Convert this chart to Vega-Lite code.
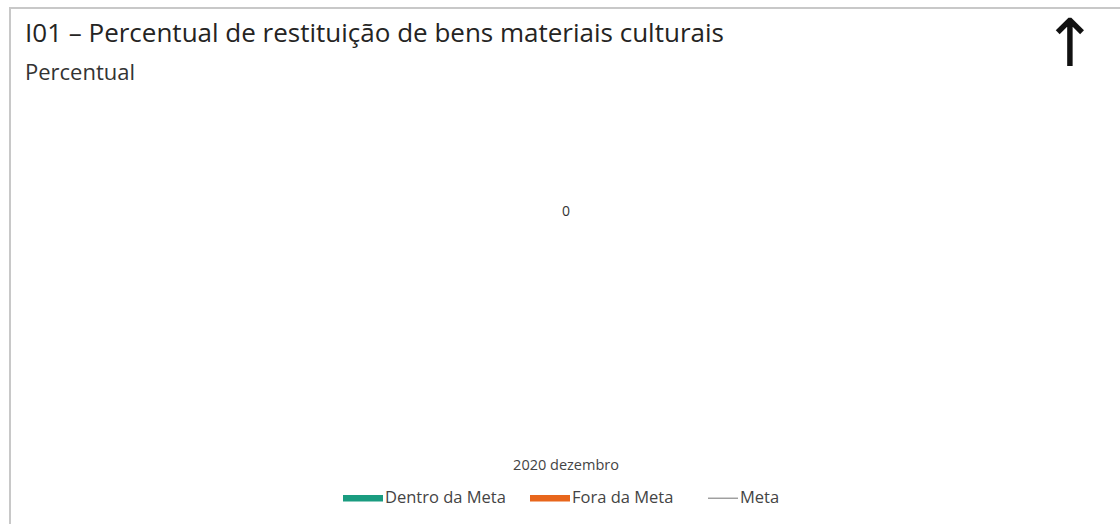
{
  "$schema": "https://vega.github.io/schema/vega-lite/v6.json",
  "autosize": "none",
  "padding": {"left": 10, "top": 8, "right": 0, "bottom": 0},
  "width": 1112,
  "height": 530,
  "background": "white",
  "config": {
    "view": {"stroke": "#c8c8c8", "strokeWidth": 2},
    "font": "Open Sans"
  },
  "title": {
    "text": "I01 – Percentual de restituição de bens materiais culturais",
    "subtitle": "Percentual",
    "anchor": "start",
    "frame": "group",
    "offset": -76,
    "dx": 15,
    "font": "Open Sans",
    "fontSize": 26,
    "fontWeight": "normal",
    "color": "#252423",
    "subtitleFont": "Open Sans",
    "subtitleFontSize": 22,
    "subtitleColor": "#333333",
    "subtitlePadding": 16
  },
  "data": {
    "values": [
      {"periodo": "2020 dezembro", "valor": 0, "status": "Dentro da Meta"}
    ]
  },
  "layer": [
    {
      "mark": {"type": "bar"},
      "encoding": {
        "x": {
          "field": "periodo",
          "type": "nominal",
          "title": null,
          "axis": {
            "orient": "bottom",
            "offset": -80,
            "domain": false,
            "ticks": false,
            "labelAngle": 0,
            "labelPadding": 0,
            "labelBaseline": "top",
            "labelFontSize": 14.5,
            "labelColor": "#444444",
            "labelFont": "Open Sans"
          }
        },
        "y": {
          "field": "valor",
          "type": "quantitative",
          "scale": {"domain": [-3, 2]},
          "axis": null
        },
        "color": {
          "field": "status",
          "type": "nominal",
          "scale": {
            "domain": ["Dentro da Meta", "Fora da Meta", "Meta"],
            "range": ["#1a9c80", "#e8661c", "#9a9a9a"]
          },
          "legend": {
            "title": null,
            "orient": "none",
            "direction": "horizontal",
            "legendX": 333,
            "legendY": 470,
            "labelFontSize": 16.5,
            "labelColor": "#444444",
            "labelFont": "Open Sans",
            "symbolSize": 1600,
            "symbolOpacity": 1,
            "symbolStrokeWidth": 0,
            "labelOffset": 2,
            "columnPadding": 24,
            "encode": {
              "symbols": {
                "update": {
                  "shape": {"signal": "datum.value === 'Meta' ? 'M-0.5,-0.035H1V0.035H-0.5Z' : 'M-1,-0.16H1V0.16H-1Z'"}
                }
              }
            }
          }
        }
      }
    },
    {
      "mark": {"type": "text", "dy": -8, "fontSize": 14, "color": "#333333", "font": "Open Sans"},
      "encoding": {
        "x": {"field": "periodo", "type": "nominal"},
        "y": {"field": "valor", "type": "quantitative"},
        "text": {"field": "valor", "type": "quantitative"}
      }
    },
    {
      "mark": {"type": "text", "text": "↑", "fontSize": 66, "font": "DejaVu Sans", "color": "#111111", "align": "center", "baseline": "middle"},
      "encoding": {
        "x": {"value": 1060},
        "y": {"value": 38}
      }
    }
  ]
}
